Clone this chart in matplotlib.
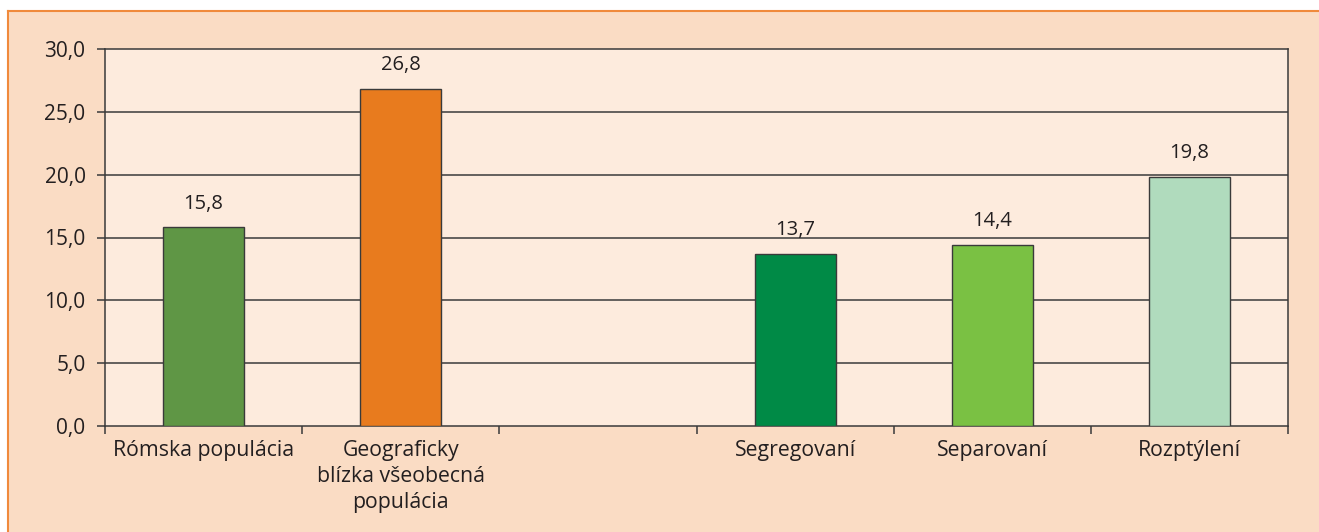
import matplotlib.pyplot as plt
from matplotlib.patches import Rectangle

plt.rcParams['font.family'] = ['Open Sans', 'DejaVu Sans']

categories = ['Rómska populácia', 'Geograficky\nblízka všeobecná\npopulácia', '',
              'Segregovaní', 'Separovaní', 'Rozptýlení']
values = [15.8, 26.8, None, 13.7, 14.4, 19.8]
colors = ['#5f9645', '#e87b1e', None, '#008a46', '#7ac143', '#b0dbbd']
yticks = [0, 5, 10, 15, 20, 25, 30]

fig = plt.figure(figsize=(13.19, 5.32), dpi=100)
fig.patch.set_facecolor('white')

# outer panel with orange border on top and left
fig.add_artist(Rectangle((8 / 1319, -0.1), 1.2, 1.1 - 11 / 532, transform=fig.transFigure,
                         facecolor='#fadcc4', edgecolor='none', zorder=-5))
fig.add_artist(plt.Line2D([8 / 1319, 1.1], [1 - 11 / 532] * 2, transform=fig.transFigure,
                          color='#f08a3c', lw=1.5, zorder=-4))
fig.add_artist(plt.Line2D([8 / 1319] * 2, [-0.1, 1 - 11 / 532], transform=fig.transFigure,
                          color='#f08a3c', lw=1.5, zorder=-4))

ax = fig.add_axes([105 / 1319, 1 - 426 / 532, (1288 - 105) / 1319, (426 - 49) / 532])
ax.set_zorder(2)
ax.set_facecolor('#fdebdd')

xs = [i for i, v in enumerate(values) if v is not None]
vals = [values[i] for i in xs]
cols = [colors[i] for i in xs]
bars = ax.bar(xs, vals, width=0.41, color=cols, edgecolor='#3a3a3a', linewidth=1.0, zorder=3)
ax.bar_label(bars, labels=[f'{v:.1f}'.replace('.', ',') for v in vals], padding=10,
             fontsize=14.5, color='#231f20')

ax.set_xlim(-0.5, len(categories) - 0.5)
ax.set_ylim(0, 30)
ax.set_yticks(yticks)
ax.set_yticklabels([f'{t:.1f}'.replace('.', ',') for t in yticks], fontsize=15, color='#231f20')
for t in yticks[1:-1]:
    ax.axhline(t, color='#3a3a3a', lw=1.1, zorder=1)

ax.set_xticks([i - 0.5 for i in range(len(categories) + 1)])
ax.set_xticklabels([])
ax.set_xticks(range(len(categories)), minor=True)
ax.set_xticklabels(categories, minor=True, fontsize=15.3, color='#231f20', linespacing=1.32, va='top')
ax.tick_params(axis='x', which='major', length=6, width=1.1, color='#3a3a3a')
ax.tick_params(axis='x', which='minor', length=0, pad=10)
ax.tick_params(axis='y', length=6, width=1.1, color='#3a3a3a', pad=8)

for s in ax.spines.values():
    s.set_color('#3a3a3a')
    s.set_linewidth(1.1)

fig.savefig('out.png', dpi=100, facecolor=fig.get_facecolor())
